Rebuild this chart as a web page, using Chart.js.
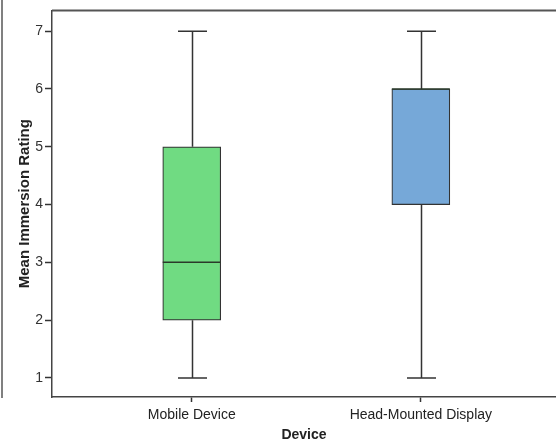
<!DOCTYPE html>
<html>
<head>
<meta charset="utf-8">
<script src="https://cdn.jsdelivr.net/npm/chart.js@4.4.1/dist/chart.umd.min.js"></script>
<style>
  html, body { margin: 0; padding: 0; background: #fff; overflow: hidden; }
  #wrap { position: relative; width: 556px; height: 446px; }
</style>
</head>
<body>
<div id="wrap"><canvas id="c" width="556" height="446"></canvas></div>
<script>
// ---- data ----
const categories = ["Mobile Device", "Head-Mounted Display"];
const whiskerMin = [1, 1];
const q1 = [2, 4];
const median = [3, 6];
const q3 = [5, 6];
const whiskerMax = [7, 7];
const yTicks = [1, 2, 3, 4, 5, 6, 7];
const boxColors = ["#70db82", "#76a8d8"];

const positions = categories.map((c, i) => i + 1);

const FONT = "'Liberation Sans', Arial, sans-serif";
const INK = "#333333";

const boxPlugin = {
  id: "boxExtras",
  beforeDatasetsDraw(chart) {
    const { ctx, scales: { x, y } } = chart;
    ctx.save();
    ctx.strokeStyle = INK;
    ctx.lineWidth = 1.5;
    const capHalf = 14.5;
    positions.forEach((p, i) => {
      const px = Math.round(x.getPixelForValue(p)) + 0.5;
      const yMin = y.getPixelForValue(whiskerMin[i]);
      const yMax = y.getPixelForValue(whiskerMax[i]);
      ctx.beginPath();
      ctx.moveTo(px, yMin); ctx.lineTo(px, y.getPixelForValue(q1[i]));
      ctx.moveTo(px, y.getPixelForValue(q3[i])); ctx.lineTo(px, yMax);
      ctx.moveTo(px - capHalf, yMin); ctx.lineTo(px + capHalf, yMin);
      ctx.moveTo(px - capHalf, yMax); ctx.lineTo(px + capHalf, yMax);
      ctx.stroke();
    });
    ctx.restore();
  },
  afterDatasetsDraw(chart) {
    const { ctx, chartArea, scales: { x, y } } = chart;
    ctx.save();
    ctx.strokeStyle = "#2a3a2a";
    ctx.lineWidth = 1.5;
    positions.forEach((p, i) => {
      const px = x.getPixelForValue(p);
      const my = y.getPixelForValue(median[i]);
      ctx.beginPath();
      ctx.moveTo(px - 29, my); ctx.lineTo(px + 29, my);
      ctx.stroke();
    });
    // top frame line
    ctx.strokeStyle = "#555555";
    ctx.lineWidth = 2;
    ctx.beginPath();
    ctx.moveTo(chartArea.left, chartArea.top); ctx.lineTo(chart.width, chartArea.top);
    ctx.stroke();
    // left outer frame line
    ctx.strokeStyle = "#808080";
    ctx.lineWidth = 2;
    ctx.beginPath();
    ctx.moveTo(2, 0); ctx.lineTo(2, chartArea.bottom + 1);
    ctx.stroke();
    ctx.restore();
  }
};

new Chart(document.getElementById("c"), {
  type: "bar",
  data: {
    datasets: [{
      data: positions.map((p, i) => ({ x: p, y: [q1[i], q3[i]] })),
      backgroundColor: boxColors,
      borderColor: INK,
      borderWidth: 1.2,
      borderSkipped: false,
      barThickness: 58
    }]
  },
  options: {
    responsive: false,
    animation: false,
    devicePixelRatio: 1,
    layout: { padding: { top: 8, right: 0, left: 0, bottom: 0 } },
    plugins: { legend: { display: false }, tooltip: { enabled: false } },
    scales: {
      x: {
        type: "linear",
        offset: false,
        min: 0.39,
        max: 2.59,
        afterBuildTicks: s => { s.ticks = positions.map(v => ({ value: v })); },
        afterFit: s => { s.height = 49; },
        ticks: {
          callback: v => categories[v - 1],
          font: { family: FONT, size: 14 },
          color: "#222",
          padding: 5,
          maxRotation: 0
        },
        grid: { offset: false, drawOnChartArea: false, drawTicks: true, tickLength: 5, color: INK, tickWidth: 1.5 },
        border: { display: true, color: "#444", width: 1.5 },
        title: {
          display: true, text: "Device",
          font: { family: FONT, size: 14, weight: "bold" },
          color: "#222",
          padding: { top: 0, bottom: 2 }
        }
      },
      y: {
        type: "linear",
        min: 0.67,
        max: 7.36,
        afterBuildTicks: s => { s.ticks = yTicks.map(v => ({ value: v })); },
        afterFit: s => { s.width = 52; },
        ticks: {
          font: { family: FONT, size: 14 },
          color: "#333",
          padding: 2
        },
        grid: { drawOnChartArea: false, drawTicks: true, tickLength: 7, color: INK, tickWidth: 1.5 },
        border: { display: true, color: "#444", width: 1.5 },
        title: {
          display: true, text: "Mean Immersion Rating",
          font: { family: FONT, size: 15, weight: "bold" },
          color: "#222",
          padding: { top: 16, bottom: 0 }
        }
      }
    }
  },
  plugins: [boxPlugin]
});
</script>
</body>
</html>
